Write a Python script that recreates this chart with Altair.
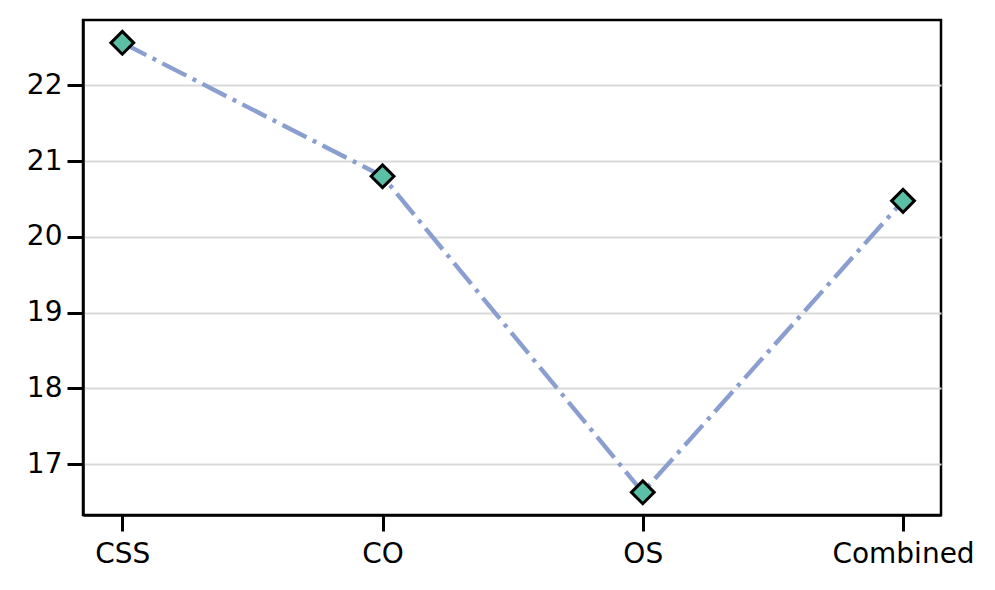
import altair as alt
import pandas as pd

categories = ["CSS", "CO", "OS", "Combined"]
positions = [0, 1, 2, 3]
values = [22.56, 20.80, 16.63, 20.475]
y_ticks = [17, 18, 19, 20, 21, 22]

df = pd.DataFrame({"pos": positions, "cat": categories, "val": values})

label_expr = "[" + ",".join(f"'{c}'" for c in categories) + "][datum.value]"

x_enc = alt.X(
    "pos:Q",
    scale=alt.Scale(domain=[-0.151, 3.146], nice=False, zero=False),
    axis=alt.Axis(
        values=positions, labelExpr=label_expr, title=None, grid=False,
        tickSize=16, tickWidth=3, tickColor="black", labelPadding=9,
        domainColor="black", domainWidth=2.5, labelFontSize=28,
        labelFont="DejaVu Sans", labelColor="black", labelAngle=0,
        labelOverlap=False, labelBound=False,
    ),
)
y_enc = alt.Y(
    "val:Q",
    scale=alt.Scale(domain=[16.331, 22.861], nice=False, zero=False),
    axis=alt.Axis(
        values=y_ticks, format="d", title=None, grid=True, gridColor="#d9d9d9",
        gridWidth=2, tickSize=16, tickWidth=3, tickColor="black", labelPadding=5,
        domainColor="black", domainWidth=2.5, labelFontSize=28,
        labelFont="DejaVu Sans", labelColor="black",
    ),
)

line = alt.Chart(df).mark_line(
    color="#8a9fd0", strokeWidth=4.4, strokeDash=[27, 7, 4, 7]
).encode(x=x_enc, y=y_enc)

pts = alt.Chart(df).mark_point(
    shape="diamond", size=520, filled=True, fill="#5bbfa6", stroke="black",
    strokeWidth=3, opacity=1
).encode(x="pos:Q", y="val:Q")

chart = (
    alt.layer(line, pts)
    .properties(
        width=858, height=495,
        autosize=alt.AutoSizeParams(type="none"),
        padding={"left": 75, "top": 12, "right": 46, "bottom": 60},
        view=alt.ViewBackground(stroke="black", strokeWidth=2.5, strokeOpacity=1),
    )
    .configure_view(stroke="black", strokeWidth=2.5, strokeOpacity=1)
    .configure(background="white")
)

chart.save("out.html", embed_options={"renderer": "svg", "actions": False})
